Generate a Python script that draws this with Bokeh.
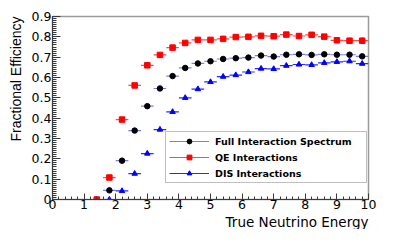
import numpy as np
from bokeh.plotting import figure
from bokeh.models import (ColumnDataSource, Title, Legend, LegendItem,
                          FixedTicker, Range1d)
from bokeh.embed import file_html
from bokeh.resources import INLINE

nan = float("nan")

# ---------------- data ----------------
bin_centers = [1.4, 1.8, 2.2, 2.6, 3.0, 3.4, 3.8, 4.2, 4.6, 5.0, 5.4,
               5.8, 6.2, 6.6, 7.0, 7.4, 7.8, 8.2, 8.6, 9.0, 9.4, 9.8]
bin_width = 0.4

full_eff = [nan, 0.045, 0.191, 0.339, 0.459, 0.546, 0.607, 0.647, 0.669, 0.680, 0.691,
            0.695, 0.698, 0.708, 0.703, 0.712, 0.714, 0.711, 0.714, 0.712, 0.712, 0.704]
full_err = [nan, 0.003, 0.004, 0.004, 0.004, 0.004, 0.004, 0.004, 0.005, 0.005, 0.005,
            0.005, 0.005, 0.006, 0.006, 0.006, 0.006, 0.006, 0.007, 0.007, 0.007, 0.007]

qe_eff = [0.0, 0.108, 0.393, 0.561, 0.660, 0.711, 0.747, 0.770, 0.785, 0.785, 0.790,
          0.799, 0.800, 0.805, 0.803, 0.811, 0.804, 0.810, 0.801, 0.783, 0.781, 0.781]
qe_err = [0.0, 0.006, 0.007, 0.007, 0.007, 0.007, 0.008, 0.008, 0.009, 0.009, 0.010,
          0.011, 0.011, 0.012, 0.012, 0.013, 0.013, 0.014, 0.014, 0.015, 0.015, 0.016]

dis_eff = [nan, 0.0, 0.042, 0.127, 0.226, 0.344, 0.431, 0.500, 0.543, 0.578, 0.604,
           0.612, 0.627, 0.644, 0.642, 0.658, 0.664, 0.662, 0.672, 0.677, 0.680, 0.668]
dis_err = [nan, 0.003, 0.004, 0.005, 0.005, 0.006, 0.006, 0.006, 0.006, 0.006, 0.006,
           0.007, 0.007, 0.007, 0.007, 0.008, 0.008, 0.008, 0.008, 0.009, 0.009, 0.009]

series_labels = ["Full Interaction Spectrum", "QE Interactions", "DIS Interactions"]

x_ticks = [0, 1, 2, 3, 4, 5, 6, 7, 8, 9, 10]
x_tick_labels = ["0", "1", "2", "3", "4", "5", "6", "7", "8", "9", "10"]
y_ticks = [0, 0.1, 0.2, 0.3, 0.4, 0.5, 0.6, 0.7, 0.8, 0.9]
y_tick_labels = ["0", "0.1", "0.2", "0.3", "0.4", "0.5", "0.6", "0.7", "0.8", "0.9"]

x_title = "True Neutrino Energy"
y_title = "Fractional Efficiency"

WIDE = "DejaVu Sans"        # the reference's text is horizontally stretched
NARROW = "Liberation Sans"

# ---------------- figure ----------------
p = figure(width=393, height=229, x_range=Range1d(0, 10), y_range=Range1d(0, 0.9),
           output_backend="svg", toolbar_location=None,
           min_border_left=50, min_border_right=25, min_border_top=16, min_border_bottom=0)
p.background_fill_color = "white"
p.border_fill_color = "white"
p.xgrid.visible = False
p.ygrid.visible = False
p.outline_line_color = "#9a9a9a"
p.outline_line_width = 1.5

p.xaxis.ticker = FixedTicker(ticks=x_ticks,
                             minor_ticks=list(np.round(np.arange(0, 10.001, 0.2), 3)))
p.yaxis.ticker = FixedTicker(ticks=y_ticks,
                             minor_ticks=list(np.round(np.arange(0, 0.9001, 0.01), 3)))
p.xaxis.major_label_overrides = {t: l for t, l in zip(x_ticks, x_tick_labels)}
p.yaxis.major_label_overrides = {t: l for t, l in zip(y_ticks, y_tick_labels)}

for ax in (p.xaxis, p.yaxis):
    ax.axis_line_color = "#3a3a3a"
    ax.major_tick_line_color = "#3a3a3a"
    ax.minor_tick_line_color = "#3a3a3a"
    ax.major_tick_out = 0
    ax.minor_tick_out = 0
    ax.major_label_text_font = WIDE
    ax.major_label_text_font_size = "12.5px"
    ax.major_label_text_color = "black"
p.xaxis.major_tick_in = 6
p.xaxis.minor_tick_in = 3
p.yaxis.major_tick_in = 8
p.yaxis.minor_tick_in = 4
p.xaxis.major_label_standoff = 0
p.yaxis.major_label_standoff = 1


def add_series(eff, err, marker, mcolor, lcolor, msize):
    src = ColumnDataSource(dict(
        x=bin_centers,
        y=eff,
        xl=[c - bin_width / 2 for c in bin_centers],
        xr=[c + bin_width / 2 for c in bin_centers],
        yl=[v - e for v, e in zip(eff, err)],
        yh=[v + e for v, e in zip(eff, err)],
    ))
    h = p.segment(x0="xl", x1="xr", y0="y", y1="y", source=src,
                  line_color=lcolor, line_width=1.2)
    p.segment(x0="x", x1="x", y0="yl", y1="yh", source=src,
              line_color=lcolor, line_width=1.2)
    m = p.scatter(x="x", y="y", source=src, marker=marker, size=msize,
                  fill_color=mcolor, line_color=mcolor)
    return [h, m]


r_full = add_series(full_eff, full_err, "circle", "black", "#7d7df0", 5.5)
r_qe = add_series(qe_eff, qe_err, "square", "#ff0000", "#ff4a4a", 5.5)
r_dis = add_series(dis_eff, dis_err, "triangle", "#0000ff", "#2a2aff", 5.5)

legend = Legend(items=[LegendItem(label=series_labels[0], renderers=r_full),
                       LegendItem(label=series_labels[1], renderers=r_qe),
                       LegendItem(label=series_labels[2], renderers=r_dis)],
                location=(113, 16))
legend.label_text_font = WIDE
legend.label_text_font_style = "bold"
legend.label_text_font_size = "9.5px"
legend.label_text_color = "black"
legend.padding = 3
legend.spacing = 4
legend.margin = 0
legend.glyph_width = 40
legend.glyph_height = 12
legend.label_height = 12
legend.label_width = 148
legend.label_standoff = 6
legend.border_line_color = "#808080"
legend.border_line_width = 1
legend.background_fill_color = "white"
legend.background_fill_alpha = 1.0
p.add_layout(legend)

# axis titles, ROOT style: placed at the far end of each axis
xt = Title(text=x_title, align="right", text_font=WIDE, text_font_size="13.5px",
           text_font_style="normal", text_color="black", standoff=0)
yt = Title(text=y_title, align="right", text_font=NARROW, text_font_size="14px",
           text_font_style="normal", text_color="black", standoff=10)
p.add_layout(xt, "below")
p.add_layout(yt, "left")

open("out.html", "w").write(file_html(p, INLINE))
